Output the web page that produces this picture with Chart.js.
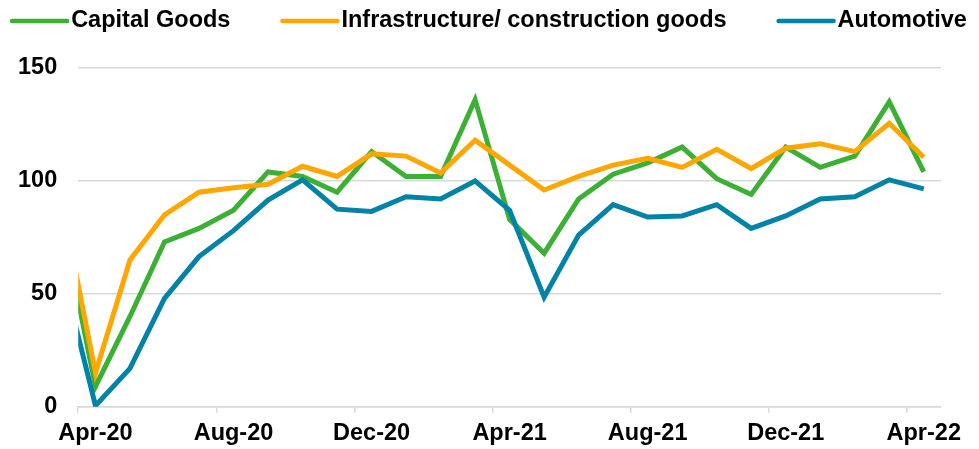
<!DOCTYPE html>
<html>
<head>
<meta charset="utf-8">
<script src="https://cdn.jsdelivr.net/npm/chart.js@4"></script>
<style>
  body { margin: 0; background: #fff; }
  #wrap { width: 979px; height: 449px; }
</style>
</head>
<body>
<div id="wrap"><canvas id="linechart"></canvas></div>
<script>
// Mar-20 sits just left of the axis, only its segment into Apr-20 shows
const months = [
  "Mar-20", "Apr-20", "May-20", "Jun-20", "Jul-20", "Aug-20", "Sep-20",
  "Oct-20", "Nov-20", "Dec-20", "Jan-21", "Feb-21", "Mar-21", "Apr-21",
  "May-21", "Jun-21", "Jul-21", "Aug-21", "Sep-21", "Oct-21", "Nov-21",
  "Dec-21", "Jan-22", "Feb-22", "Mar-22", "Apr-22",
];
const capitalGoods = [85, 9, 40, 73, 79, 87, 104, 102, 95, 113, 102, 102, 136, 83, 68, 92, 103, 108, 115, 101, 94, 115, 106, 111, 135, 104];
const infrastructure = [93, 15, 65, 85, 95, 97, 98.5, 106.5, 102, 112, 111, 103.5, 118, 107, 96, 102, 107, 110, 106, 114, 105.5, 114.5, 116.5, 113, 125.5, 110.5];
const automotive = [62, 0.5, 17, 48, 66.5, 78, 91.5, 100.5, 87.5, 86.5, 93, 92, 100, 87, 48.5, 76, 89.5, 84, 84.5, 89.5, 79, 84.5, 92, 93, 100.5, 96.5];
const yTicks = [0, 50, 100, 150];

const font = { family: "'Liberation Sans', Arial, sans-serif", size: 23.5, weight: "bold" };

// legend drawn as one row: short line, text, wide gap
const legendRow = {
  id: "legendRow",
  afterDraw(chart) {
    const ctx = chart.ctx;
    const sets = chart.data.datasets;
    const lineLen = 55, textGap = 4, itemGap = 52, y = 21;
    ctx.save();
    ctx.font = "bold 23.5px 'Liberation Sans', Arial, sans-serif";
    ctx.textBaseline = "middle";
    const widths = sets.map((d) => ctx.measureText(d.label).width);
    const total = widths.reduce((a, w) => a + lineLen + textGap + w, 0) + itemGap * (sets.length - 1);
    let x = (chart.width - total) / 2;
    sets.forEach((d, i) => {
      ctx.strokeStyle = d.borderColor;
      ctx.lineWidth = 4.5;
      ctx.lineCap = "round";
      ctx.beginPath();
      ctx.moveTo(x, y);
      ctx.lineTo(x + lineLen, y);
      ctx.stroke();
      ctx.fillStyle = "#000";
      ctx.fillText(d.label, x + lineLen + textGap, y);
      x += lineLen + textGap + widths[i] + itemGap;
    });
    ctx.restore();
  },
};

const lctx = document.getElementById("linechart");

new Chart(lctx, {
  type: "line",
  data: {
    labels: months,
    datasets: [
      { label: "Capital Goods", data: capitalGoods, borderColor: "#3cb034", backgroundColor: "#3cb034", order: 3 },
      { label: "Infrastructure/ construction goods", data: infrastructure, borderColor: "#ffa600", backgroundColor: "#ffa600", order: 2 },
      { label: "Automotive", data: automotive, borderColor: "#0083a6", backgroundColor: "#0083a6", order: 1 },
    ],
  },
  options: {
    responsive: true,
    maintainAspectRatio: false,
    animation: false,
    layout: { padding: { top: 68, left: -3, right: 38, bottom: -6 } },
    elements: {
      line: { borderWidth: 5, tension: 0 },
      point: { radius: 0, hoverRadius: 0 },
    },
    plugins: {
      legend: { display: false },
      tooltip: { enabled: false },
    },
    scales: {
      x: {
        min: "Apr-20",
        offset: true,
        grid: {
          offset: true,
          drawOnChartArea: false,
          drawTicks: true,
          tickLength: 6,
          lineWidth: 1.5,
          color: (c) => (c.index !== undefined && c.index % 4 === 0 ? "#d9d9d9" : "rgba(0,0,0,0)"),
        },
        border: { display: true, color: "#d9d9d9", width: 1.5 },
        ticks: {
          autoSkip: false,
          maxRotation: 0,
          padding: 7,
          color: "#000",
          font: font,
          callback: function (value, index) {
            return index % 4 === 0 ? this.getLabelForValue(value) : "";
          },
        },
      },
      y: {
        min: yTicks[0],
        max: yTicks[yTicks.length - 1],
        grid: { color: "#d9d9d9", lineWidth: 1.5, drawTicks: false },
        border: { display: false },
        afterBuildTicks: (scale) => {
          scale.ticks = yTicks.map((v) => ({ value: v }));
        },
        ticks: { padding: 21, color: "#000", font: font },
      },
    },
  },
  plugins: [legendRow],
});
</script>
</body>
</html>
